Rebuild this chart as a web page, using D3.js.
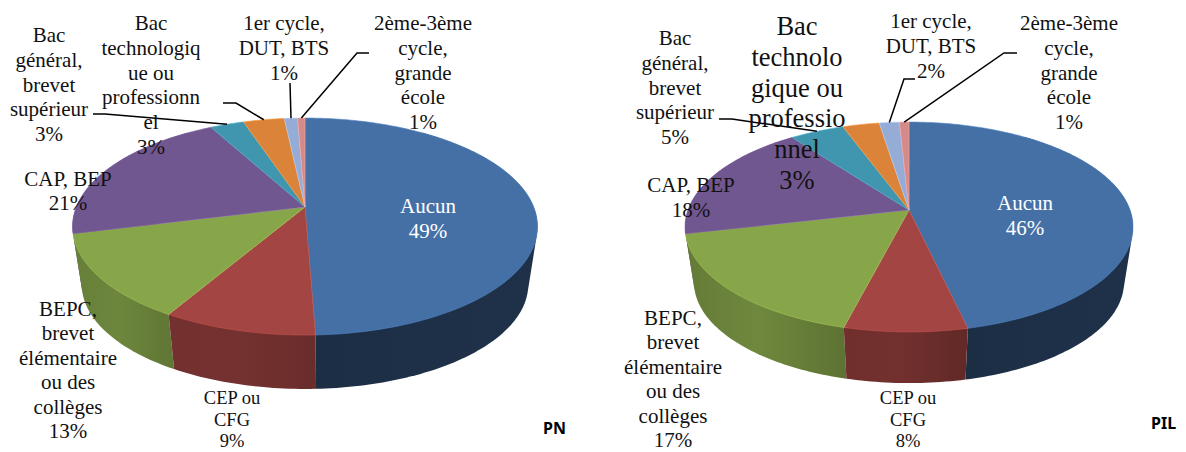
<!DOCTYPE html>
<html>
<head>
<meta charset="utf-8">
<script src="https://cdn.jsdelivr.net/npm/d3@7"></script>
<style>
  html, body { margin: 0; padding: 0; background: #fff; overflow: hidden; }
  text { font-family: "Liberation Serif", serif; fill: #111; }
</style>
</head>
<body>
<div id="chart"></div>
<script>
const categories = ['Aucun', 'CEP ou CFG', 'BEPC, brevet élémentaire ou des collèges', 'CAP, BEP',
  'Bac général, brevet supérieur', 'Bac technologique ou professionnel', '1er cycle, DUT, BTS', '2ème-3ème cycle, grande école'];
const valuesPN = [49.4, 9.0, 12.7, 21.0, 2.8, 3.4, 1.1, 0.6];
const valuesPIL = [46.4, 7.6, 17.4, 18.4, 4.6, 3.1, 1.7, 0.8];
const colors = ['#4570a6', '#a34542', '#87a64a', '#71578f', '#3f96ae', '#db8439', '#95acd6', '#d48a88'];

// wrapped label text, as it breaks in each pie
const wrapPN = [['Aucun'], ['CEP ou', 'CFG'], ['BEPC,', 'brevet', 'élémentaire', 'ou des', 'collèges'], ['CAP, BEP'],
  ['Bac', 'général,', 'brevet', 'supérieur'], ['Bac', 'technologiq', 'ue ou', 'professionn', 'el'],
  ['1er cycle,', 'DUT, BTS'], ['2ème-3ème', 'cycle,', 'grande', 'école']];
const wrapPIL = [['Aucun'], ['CEP ou', 'CFG'], ['BEPC,', 'brevet', 'élémentaire', 'ou des', 'collèges'], ['CAP, BEP'],
  ['Bac', 'général,', 'brevet', 'supérieur'], ['Bac', 'technolo', 'gique ou', 'professio', 'nnel'],
  ['1er cycle,', 'DUT, BTS'], ['2ème-3ème', 'cycle,', 'grande', 'école']];

const width = 1186;
const height = 452;

const svg = d3.select('#chart')
  .append('svg')
  .attr('width', width)
  .attr('height', height)
  .style('display', 'block');

const defs = svg.append('defs');

function drawPie(id, title, values, wrap, o) {
  const g = svg.append('g').attr('class', id);

  // circle in the pie plane -> screen, p is the perspective strength
  function project(angle, scale, apexY) {
    const u = Math.sin(angle);
    const v = -Math.cos(angle);
    const w = 1 - o.p * v;
    return [o.cx + scale * o.R * u / w, apexY + scale * o.k * v / w];
  }
  const topEdge = (a) => project(a, 1, o.apexY);
  const lowEdge = (a) => project(a, o.lowScale, o.lowApexY);

  function samples(a0, a1) {
    const n = Math.max(2, Math.ceil((a1 - a0) / 0.02));
    return d3.range(n + 1).map((i) => a0 + (a1 - a0) * i / n);
  }

  const line = d3.line();
  const slices = d3.pie().sort(null).value((d) => d)(values);

  // walls first, back ones before front ones
  const frontMin = Math.PI * 0.2;
  const frontMax = Math.PI * 1.8;
  const walls = slices
    .map((d, i) => ({ a0: Math.max(d.startAngle, frontMin), a1: Math.min(d.endAngle, frontMax), i }))
    .filter((d) => d.a1 > d.a0)
    .sort((a, b) => Math.cos((a.a0 + a.a1) / 2) > Math.cos((b.a0 + b.a1) / 2) ? -1 : 1);

  walls.forEach((d) => {
    const base = d3.color(colors[d.i]);
    const shade = o.shades[d.i] || [1, 1, 1];
    const gradId = id + '-wall-' + d.i;
    const grad = defs.append('linearGradient').attr('id', gradId);
    grad.append('stop').attr('offset', '0%').attr('stop-color', base.darker(shade[0]).formatHex());
    grad.append('stop').attr('offset', '45%').attr('stop-color', base.darker(shade[1]).formatHex());
    grad.append('stop').attr('offset', '100%').attr('stop-color', base.darker(shade[2]).formatHex());

    // hull, so the wall also fills the silhouette between top and bottom rims
    const angles = samples(d.a0, d.a1);
    const hull = d3.polygonHull(angles.map(topEdge).concat(angles.map(lowEdge)));
    g.append('path')
      .attr('d', line(hull) + 'Z')
      .attr('fill', 'url(#' + gradId + ')');
  });

  // top cap
  g.selectAll('path.cap')
    .data(slices)
    .enter()
    .append('path')
    .attr('class', 'cap')
    .attr('d', (d) => line([[o.cx, o.apexY]].concat(samples(d.startAngle, d.endAngle).map(topEdge))) + 'Z')
    .attr('fill', (d, i) => colors[i])
    .attr('stroke', (d, i) => d3.color(colors[i]).brighter(0.5).formatHex())
    .attr('stroke-width', 0.6);

  // leader lines end on the rim, at the middle of the slice
  o.leaders.forEach((l) => {
    const s = slices[l.slice];
    const end = topEdge((s.startAngle + s.endAngle) / 2);
    g.append('path')
      .attr('d', line(l.from.concat([end])))
      .attr('fill', 'none')
      .attr('stroke', '#000')
      .attr('stroke-width', 1.5);
  });

  // labels
  values.forEach((v, i) => {
    const pos = o.labels[i];
    const size = pos.size || 21;
    const step = pos.step || 24.8;
    const text = g.append('text')
      .attr('text-anchor', 'middle')
      .style('font-size', size + 'px')
      .style('fill', i === 0 ? '#fff' : '#111');
    wrap[i].concat([Math.round(v) + '%']).forEach((t, j) => {
      text.append('tspan')
        .attr('x', pos.x)
        .attr('y', pos.y + j * step)
        .text(t);
    });
  });

  g.append('text')
    .attr('x', o.titleX)
    .attr('y', o.titleY)
    .style('font-family', '"Noto Sans", sans-serif')
    .style('font-size', '16px')
    .style('font-weight', 'bold')
    .style('fill', '#000')
    .text(title);
}

drawPie('pn', 'PN', valuesPN, wrapPN, {
  cx: 305, apexY: 207, R: 228.7, k: 105, p: 0.18,
  lowScale: 0.96, lowApexY: 266,
  shades: [[2.5, 2.4, 2.3], [1.0, 0.95, 1.2], [0.75, 0.6, 0.95]],
  titleX: 543, titleY: 434,
  labels: [
    { x: 428, y: 213 }, { x: 232, y: 404, size: 18.5, step: 21.5 }, { x: 68, y: 316, step: 24.4 }, { x: 68, y: 185.5 },
    { x: 49, y: 42 }, { x: 151, y: 30 }, { x: 284, y: 30 }, { x: 423, y: 30 }
  ],
  leaders: [
    { slice: 4, from: [[93, 114], [105, 114]] },
    { slice: 5, from: [[223, 103], [236, 103]] },
    { slice: 6, from: [[290, 83]] },
    { slice: 7, from: [[369, 53], [357, 53]] }
  ]
});

drawPie('pil', 'PIL', valuesPIL, wrapPIL, {
  cx: 909, apexY: 210, R: 221, k: 102.2, p: 0.162,
  lowScale: 0.96, lowApexY: 266,
  shades: [[2.5, 2.4, 2.3], [1.05, 1.0, 1.45], [0.85, 0.55, 1.05]],
  titleX: 1151, titleY: 429,
  labels: [
    { x: 1025, y: 210 }, { x: 908, y: 404, size: 18.5, step: 21.5 }, { x: 673, y: 325, step: 24.4 }, { x: 691, y: 192 },
    { x: 675, y: 45 }, { x: 797, y: 35, size: 26.5, step: 30.8 }, { x: 931, y: 28 }, { x: 1069, y: 30 }
  ],
  leaders: [
    { slice: 4, from: [[719, 119], [732, 119]] },
    { slice: 6, from: [[915, 79], [904, 79]] },
    { slice: 7, from: [[1017, 53], [1004, 53]] }
  ]
});
</script>
</body>
</html>
